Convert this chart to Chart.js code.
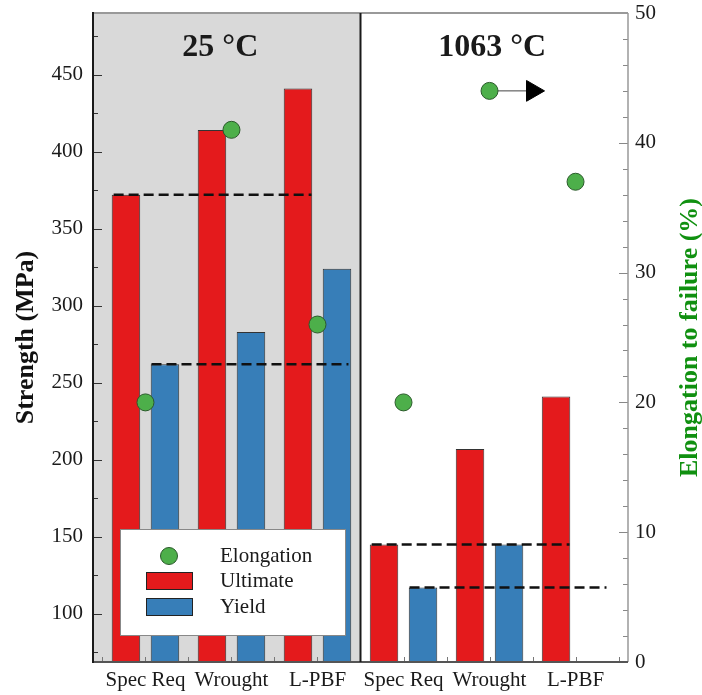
<!DOCTYPE html>
<html>
<head>
<meta charset="utf-8">
<script src="https://cdn.jsdelivr.net/npm/chart.js@4.4.1/dist/chart.umd.min.js"></script>
<style>
  html, body { margin: 0; padding: 0; background: #fff; }
  #chart { display: block; }
</style>
</head>
<body>
<canvas id="chart" width="702" height="695"></canvas>
<script>
const categories = ['Spec Req', 'Wrought', 'L-PBF', 'Spec Req', 'Wrought', 'L-PBF'];
const panelTitles = ['25 °C', '1063 °C'];
const ultimate = [372, 414, 441, 145, 207, 241];
const yieldStrength = [262, 283, 324, 117, 145, null];
const elongation = [20, 41, 26, 20, 44, 37];
// spec requirement per temperature (MPa), shown as dashed lines
const specUltimate = [372, 145];
const specYield = [262, 117];
const strengthTicks = [100, 150, 200, 250, 300, 350, 400, 450];
const elongationTicks = [0, 10, 20, 30, 40, 50];

const SERIF = '"Liberation Serif", "Times New Roman", serif';
const RED = '#e41a1c';
const BLUE = '#377eb8';
const GREEN = '#4daf4a';

function specLine(values, from, to) {
  // one dashed segment per temperature panel (3 categories each)
  return values.map((v, p) => [
    { x: p * 3 + from, y: v },
    { x: p * 3 + to, y: v },
    { x: null, y: null },
  ]).flat();
}

function line(ctx, x1, y1, x2, y2) {
  ctx.beginPath();
  ctx.moveTo(x1, y1);
  ctx.lineTo(x2, y2);
  ctx.stroke();
}

// keep tick labels from pushing the plot area around
function noPad(scale) {
  scale.paddingTop = 0;
  scale.paddingBottom = 0;
  scale.paddingLeft = 0;
  scale.paddingRight = 0;
}

const panelPlugin = {
  id: 'panels',
  beforeDatasetsDraw(chart) {
    const { ctx, chartArea: a, scales: { x } } = chart;
    const split = x.getPixelForValue(2.5);
    ctx.save();
    ctx.fillStyle = '#d9d9d9';
    ctx.fillRect(a.left, a.top, split - a.left, a.bottom - a.top);
    ctx.restore();
  },
  afterDatasetsDraw(chart) {
    const { ctx, chartArea: a, scales: { x, y, y1 } } = chart;
    ctx.save();

    // inward tick marks
    ctx.lineWidth = 1;
    ctx.strokeStyle = '#333';
    strengthTicks.forEach(v => {
      const py = Math.round(y.getPixelForValue(v)) + 0.5;
      line(ctx, a.left, py, a.left + 9, py);
    });
    for (let v = 75; v < y.max; v += 50) {
      const py = Math.round(y.getPixelForValue(v)) + 0.5;
      line(ctx, a.left, py, a.left + 5, py);
    }
    ctx.strokeStyle = '#888';
    elongationTicks.forEach(v => {
      const py = Math.round(y1.getPixelForValue(v)) + 0.5;
      line(ctx, a.right - 9, py, a.right, py);
    });
    for (let v = 2; v < 50; v += 2) {
      if (v % 10 === 0) continue;
      const py = Math.round(y1.getPixelForValue(v)) + 0.5;
      line(ctx, a.right - 5, py, a.right, py);
    }
    ctx.strokeStyle = '#777';
    for (let v = -0.5; v <= 5.5; v += 0.5) {
      const px = Math.round(x.getPixelForValue(v)) + 0.5;
      line(ctx, px, a.bottom, px, a.bottom - 5);
    }

    // frame
    ctx.lineWidth = 2;
    ctx.strokeStyle = '#999';
    line(ctx, a.left, a.top, a.right, a.top);
    ctx.lineWidth = 1.5;
    line(ctx, a.right, a.top, a.right, a.bottom);
    ctx.lineWidth = 2;
    ctx.strokeStyle = '#555';
    line(ctx, a.left - 1, a.bottom, a.right, a.bottom);
    ctx.strokeStyle = '#1a1a1a';
    line(ctx, a.left, a.top - 1, a.left, a.bottom + 1);
    const split = x.getPixelForValue(2.5);
    line(ctx, split, a.top, split, a.bottom);

    // panel titles
    ctx.fillStyle = '#1a1a1a';
    ctx.font = 'bold 32px ' + SERIF;
    ctx.textAlign = 'center';
    ctx.textBaseline = 'alphabetic';
    ctx.fillText(panelTitles[0], x.getPixelForValue(0.87), 56);
    ctx.fillText(panelTitles[1], x.getPixelForValue(4.03), 56);
    ctx.restore();
  },
  afterDraw(chart) {
    const { ctx, chartArea: a } = chart;
    ctx.save();

    // axis titles, both reading bottom to top
    const midY = (a.top + a.bottom) / 2;
    ctx.font = 'bold 26px ' + SERIF;
    ctx.textAlign = 'center';
    ctx.textBaseline = 'alphabetic';
    ctx.fillStyle = '#111';
    ctx.translate(33, midY);
    ctx.rotate(-Math.PI / 2);
    ctx.fillText('Strength (MPa)', 0, 0);
    ctx.setTransform(1, 0, 0, 1, 0, 0);
    ctx.fillStyle = '#109010';
    ctx.translate(697, midY);
    ctx.rotate(-Math.PI / 2);
    ctx.fillText('Elongation to failure (%)', 0, 0);
    ctx.setTransform(1, 0, 0, 1, 0, 0);

    // legend box inside the left panel
    const bx = 120, by = 529, bw = 225, bh = 106;
    ctx.fillStyle = '#fff';
    ctx.fillRect(bx, by, bw, bh);
    ctx.strokeStyle = '#888';
    ctx.lineWidth = 1;
    ctx.strokeRect(bx + 0.5, by + 0.5, bw, bh);

    ctx.fillStyle = GREEN;
    ctx.strokeStyle = '#2b5a2b';
    ctx.beginPath();
    ctx.arc(169, 556, 8.5, 0, Math.PI * 2);
    ctx.fill();
    ctx.stroke();

    ctx.strokeStyle = '#222';
    ctx.fillStyle = RED;
    ctx.fillRect(146, 572, 47, 18);
    ctx.strokeRect(146.5, 572.5, 46, 17);
    ctx.fillStyle = BLUE;
    ctx.fillRect(146, 598, 47, 18);
    ctx.strokeRect(146.5, 598.5, 46, 17);

    ctx.fillStyle = '#1a1a1a';
    ctx.font = '21px ' + SERIF;
    ctx.textAlign = 'left';
    ctx.textBaseline = 'middle';
    ctx.fillText('Elongation', 220, 556);
    ctx.fillText('Ultimate', 220, 581);
    ctx.fillText('Yield', 220, 607);
    ctx.restore();
  },
};

const tickFont = { family: SERIF, size: 21 };

new Chart(document.getElementById('chart'), {
  type: 'bar',
  data: {
    datasets: [
      {
        type: 'line',
        label: 'Elongation',
        data: elongation.map((v, i) => ({ x: i, y: v })),
        yAxisID: 'y1',
        showLine: false,
        pointRadius: 8.5,
        pointBackgroundColor: GREEN,
        pointBorderColor: '#2b5a2b',
        pointBorderWidth: 1,
        order: -2,
      },
      {
        // arrow: elongation beyond the measured value
        type: 'line',
        label: 'arrow',
        data: [{ x: 4, y: elongation[4] }, { x: 4.5, y: elongation[4] }],
        yAxisID: 'y1',
        borderColor: '#444',
        borderWidth: 1,
        pointRadius: [0, 12],
        pointStyle: 'triangle',
        pointRotation: 90,
        pointBackgroundColor: '#000',
        pointBorderColor: '#000',
        order: -1,
      },
      {
        type: 'line',
        label: 'Spec ultimate',
        data: specLine(specUltimate, -0.37, 1.93),
        yAxisID: 'y',
        borderColor: '#111',
        borderWidth: 2.5,
        borderDash: [10, 5],
        pointRadius: 0,
        spanGaps: false,
        order: 0,
      },
      {
        type: 'line',
        label: 'Spec yield',
        data: specLine(specYield, 0.07, 2.36),
        yAxisID: 'y',
        borderColor: '#111',
        borderWidth: 2.5,
        borderDash: [10, 5],
        pointRadius: 0,
        spanGaps: false,
        order: 0,
      },
      {
        label: 'Ultimate',
        data: ultimate.map((v, i) => ({ x: i, y: v })),
        yAxisID: 'y',
        backgroundColor: RED,
        borderColor: '#333',
        borderWidth: 1,
        borderSkipped: false,
        categoryPercentage: 0.907,
        barPercentage: 0.731,
        order: 1,
      },
      {
        label: 'Yield',
        data: yieldStrength.map((v, i) => ({ x: i, y: v })),
        yAxisID: 'y',
        backgroundColor: BLUE,
        borderColor: '#333',
        borderWidth: 1,
        borderSkipped: false,
        categoryPercentage: 0.907,
        barPercentage: 0.731,
        order: 1,
      },
    ],
  },
  options: {
    responsive: false,
    animation: false,
    layout: { padding: { top: 13, left: 0, right: 0, bottom: 0 } },
    plugins: {
      legend: { display: false },
      tooltip: { enabled: false },
    },
    scales: {
      x: {
        type: 'linear',
        offset: false,
        min: -0.61,
        max: 5.61,
        afterBuildTicks: scale => {
          scale.ticks = categories.map((_, i) => ({ value: i }));
        },
        afterFit: scale => { scale.height = 33; noPad(scale); },
        ticks: {
          autoSkip: false,
          maxRotation: 0,
          padding: 6,
          color: '#1a1a1a',
          font: tickFont,
          callback: value => categories[value],
        },
        grid: { display: false, drawTicks: false },
        border: { display: false },
      },
      y: {
        position: 'left',
        min: 68.7,
        max: 490,
        afterBuildTicks: scale => {
          scale.ticks = strengthTicks.map(v => ({ value: v }));
        },
        afterFit: scale => { scale.width = 93; noPad(scale); },
        ticks: { padding: 10, color: '#1a1a1a', font: tickFont },
        grid: { display: false, drawTicks: false },
        border: { display: false },
      },
      y1: {
        position: 'right',
        min: 0,
        max: 50,
        afterBuildTicks: scale => {
          scale.ticks = elongationTicks.map(v => ({ value: v }));
        },
        afterFit: scale => { scale.width = 74; noPad(scale); },
        ticks: { padding: 7, color: '#1a1a1a', font: tickFont },
        grid: { display: false, drawTicks: false },
        border: { display: false },
      },
    },
  },
  plugins: [panelPlugin],
});
</script>
</body>
</html>
